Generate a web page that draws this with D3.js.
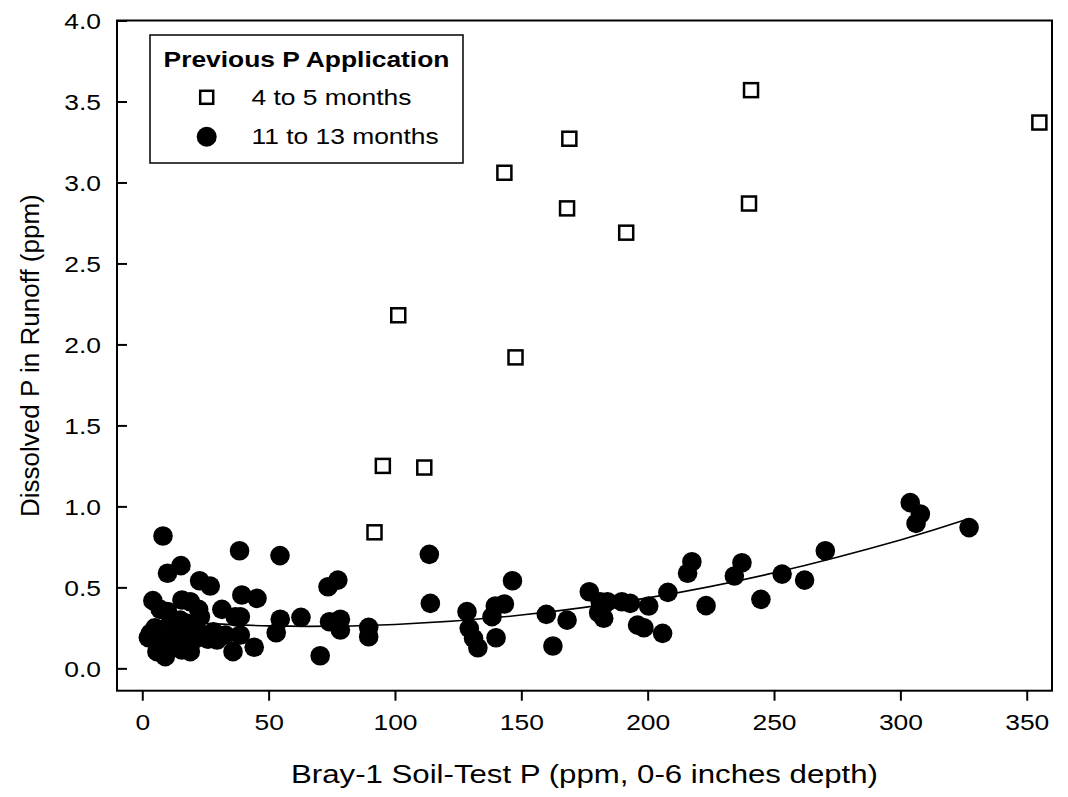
<!DOCTYPE html>
<html>
<head>
<meta charset="utf-8">
<script src="https://cdn.jsdelivr.net/npm/d3@7/dist/d3.min.js"></script>
<style>
  html, body { margin: 0; padding: 0; background: #fff; }
  svg { display: block; }
  text { font-family: "Liberation Sans", Arial, sans-serif; fill: #000; }
</style>
</head>
<body>
<svg id="chart" width="1068" height="797"></svg>
<script>
// ---- data ----
const xTicks = [0, 50, 100, 150, 200, 250, 300, 350];
const yTicks = [0.0, 0.5, 1.0, 1.5, 2.0, 2.5, 3.0, 3.5, 4.0];

const legendTitle = "Previous P Application";
const seriesNames = ["4 to 5 months", "11 to 13 months"];

// 4 to 5 months (open squares)
const squareX = [91.9, 95.2, 101.3, 111.6, 143.3, 147.7, 168.1, 169.0, 191.5, 240.1, 240.9, 355.0];
const squareY = [0.84, 1.25, 2.18, 1.24, 3.06, 1.92, 2.84, 3.27, 2.69, 2.87, 3.57, 3.37];

// 11 to 13 months (filled circles)
const circleX = [8.2, 38.5, 54.5, 10.0, 15.3, 22.7, 26.9, 39.4, 45.4, 4.2, 15.7, 19.0, 22.3, 23.0, 31.5, 36.8, 38.8, 54.6, 53.0, 7.1,
  15.0, 3.2, 7.1, 5.8, 9.1, 12.4, 15.7, 19.0, 20.3, 23.0, 28.2, 29.6, 32.9, 35.9, 38.8, 44.3, 13.7, 11.1, 17.7, 2.4,
  10.0, 12.0, 5.0, 9.0, 17.0, 26.0,
  62.8, 70.4, 73.5, 77.4, 74.1, 78.4, 78.4, 89.6, 89.6, 113.6, 114.0, 128.5, 129.4, 131.1, 132.8, 138.4, 139.7, 143.3, 140.0, 146.5,
  159.9, 162.5, 168.1, 176.9, 180.6, 182.6, 181.2, 184.1, 189.8, 193.1, 200.4, 196.0, 198.5, 205.9, 208.0, 215.8, 217.5, 223.1,
  234.3, 237.3, 244.8, 253.2, 262.1, 270.3, 303.9, 306.2, 307.9, 327.2];
const circleY = [0.817, 0.726, 0.696, 0.587, 0.634, 0.541, 0.508, 0.453, 0.432, 0.418, 0.422, 0.411, 0.364, 0.319, 0.364, 0.319, 0.319, 0.303, 0.220, 0.364,
  0.298, 0.216, 0.175, 0.103, 0.072, 0.133, 0.113, 0.103, 0.175, 0.216, 0.226, 0.175, 0.206, 0.103, 0.206, 0.130, 0.237, 0.278, 0.278, 0.190,
  0.350, 0.200, 0.250, 0.150, 0.180, 0.180,
  0.315, 0.078, 0.504, 0.545, 0.288, 0.303, 0.237, 0.253, 0.195, 0.704, 0.401, 0.350, 0.247, 0.185, 0.127, 0.319, 0.385, 0.397, 0.189, 0.541,
  0.333, 0.138, 0.298, 0.473, 0.343, 0.309, 0.411, 0.411, 0.411, 0.401, 0.385, 0.267, 0.251, 0.216, 0.469, 0.587, 0.658, 0.387,
  0.570, 0.652, 0.426, 0.582, 0.545, 0.726, 1.023, 0.895, 0.953, 0.869];

// fitted curve, points
const curveX = [3, 50, 100, 150, 200, 250, 300, 327];
const curveY = [0.298, 0.262, 0.271, 0.329, 0.435, 0.590, 0.793, 0.923];

// ---- layout ----
const svg = d3.select("#chart");
const L = 117, R = 1052, T = 20.5, B = 690.7;
const SX = 1.2; // horizontal text stretch seen in the reference

const x = d3.scaleLinear().domain([-10, 360]).range([L, R]);
const y = d3.scaleLinear().domain([-0.138, 4.0]).range([B, T]);

// fitted curve
const line = d3.line().x(d => x(d[0])).y(d => y(d[1])).curve(d3.curveNatural);
svg.append("path")
  .datum(curveX.map((v, i) => [v, curveY[i]]))
  .attr("d", line)
  .attr("fill", "none").attr("stroke", "#000").attr("stroke-width", 1.6);

// circles
svg.append("g").selectAll("circle")
  .data(circleX.map((v, i) => [v, circleY[i]]))
  .join("circle")
  .attr("cx", d => x(d[0])).attr("cy", d => y(d[1]))
  .attr("r", 9.8).attr("fill", "#000");

// squares
const sq = 14;
svg.append("g").selectAll("rect")
  .data(squareX.map((v, i) => [v, squareY[i]]))
  .join("rect")
  .attr("x", d => x(d[0]) - sq / 2).attr("y", d => y(d[1]) - sq / 2)
  .attr("width", sq).attr("height", sq)
  .attr("fill", "#fff").attr("stroke", "#000").attr("stroke-width", 2.5);

// frame
svg.append("rect").attr("x", L).attr("y", T).attr("width", R - L).attr("height", B - T)
  .attr("fill", "none").attr("stroke", "#000").attr("stroke-width", 2);

// x axis
const gx = svg.append("g").attr("transform", `translate(0,${B})`)
  .call(d3.axisBottom(x).tickValues(xTicks).tickSize(10).tickPadding(0).tickFormat(d3.format("d")));
gx.select(".domain").remove();
gx.selectAll(".tick line").attr("stroke", "#000").attr("stroke-width", 2);
gx.selectAll(".tick text")
  .attr("y", null).attr("dy", null)
  .attr("transform", `translate(0,39) scale(${SX},1)`)
  .attr("font-size", 22).attr("font-family", "Liberation Sans, Arial, sans-serif")
  .attr("text-anchor", "middle");

// y axis (inward ticks)
const gy = svg.append("g").attr("transform", `translate(${L},0)`)
  .call(d3.axisLeft(y).tickValues(yTicks).tickSize(-10).tickPadding(0).tickFormat(d3.format(".1f")));
gy.select(".domain").remove();
gy.selectAll(".tick line").attr("stroke", "#000").attr("stroke-width", 2);
gy.selectAll(".tick text")
  .attr("x", 0).attr("dy", null)
  .attr("transform", `translate(-16,8) scale(${SX},1)`)
  .attr("font-size", 22).attr("font-family", "Liberation Sans, Arial, sans-serif")
  .attr("text-anchor", "end");

// axis titles
svg.append("text")
  .attr("transform", `translate(${(L + R) / 2},783) scale(${SX},1)`)
  .attr("text-anchor", "middle").attr("font-size", 26)
  .text("Bray-1 Soil-Test P (ppm, 0-6 inches depth)");
svg.append("text")
  .attr("transform", `translate(39,${(T + B) / 2}) rotate(-90)`)
  .attr("text-anchor", "middle").attr("font-size", 26)
  .text("Dissolved P in Runoff (ppm)");

// legend
const lg = svg.append("g");
lg.append("rect").attr("x", 150).attr("y", 35).attr("width", 313).attr("height", 128)
  .attr("fill", "#fff").attr("stroke", "#000").attr("stroke-width", 1.5);
lg.append("text")
  .attr("transform", `translate(306.5,67) scale(${SX},1)`)
  .attr("text-anchor", "middle").attr("font-size", 22).attr("font-weight", "bold")
  .text(legendTitle);
lg.append("rect").attr("x", 206.7 - 6.5).attr("y", 97.3 - 6.5).attr("width", 13).attr("height", 13)
  .attr("fill", "#fff").attr("stroke", "#000").attr("stroke-width", 2.5);
lg.append("circle").attr("cx", 206.7).attr("cy", 136.7).attr("r", 10).attr("fill", "#000");
lg.append("text").attr("transform", `translate(251.5,105) scale(${SX},1)`)
  .attr("font-size", 22).text(seriesNames[0]);
lg.append("text").attr("transform", `translate(251.5,144) scale(${SX},1)`)
  .attr("font-size", 22).text(seriesNames[1]);
</script>
</body>
</html>
